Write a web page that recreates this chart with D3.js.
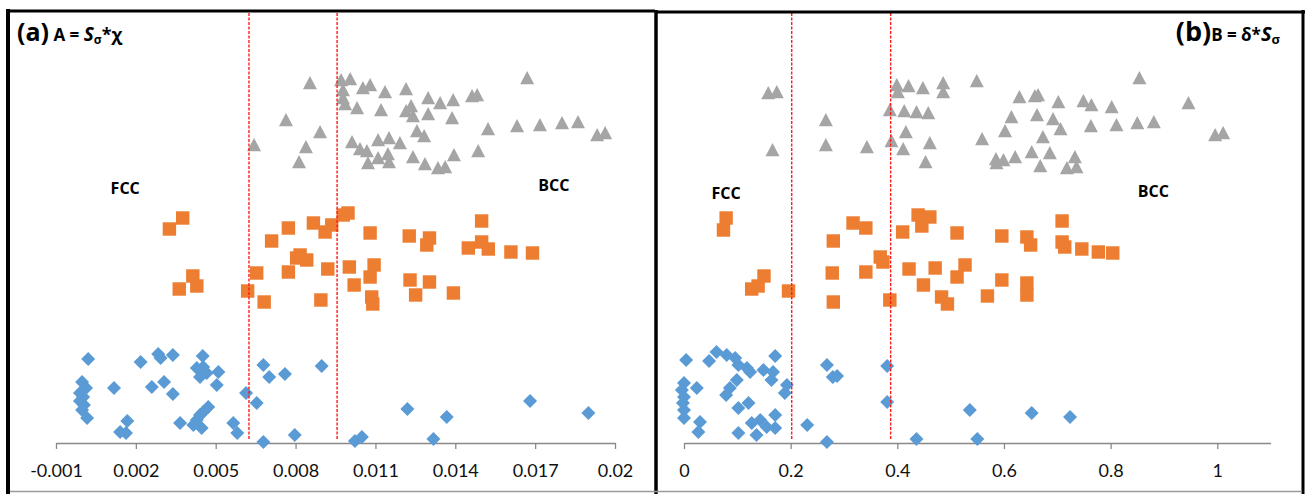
<!DOCTYPE html>
<html><head><meta charset="utf-8">
<script src="https://cdn.jsdelivr.net/npm/d3@7"></script>
<style>
body{margin:0;background:#fff}
svg{display:block}
text{font-family:Lato,"Open Sans","Liberation Sans",sans-serif}
</style>
</head><body>
<svg id="chart" width="1311" height="494"></svg>
<script>
// ---------- DATA ----------
// Panel (a): x = A = S_sigma * chi ; y = arbitrary vertical spread (no y axis)
const triA = [[0.00644,2.98],[0.00764,3.23],[0.00813,2.81],[0.00839,2.96],[0.00854,3.60],[0.00892,3.11],
[0.00971,3.63],[0.00978,3.53],[0.00978,3.45],[0.00986,3.39],[0.01005,3.64],[0.01031,3.35],[0.01053,3.55],[0.01080,3.58],
[0.01121,3.33],[0.01136,3.51],[0.01215,3.54],[0.01215,3.32],[0.01234,3.37],[0.01241,3.27],[0.01298,3.45],[0.01298,3.29],
[0.01343,3.40],[0.01392,3.43],[0.01388,3.25],[0.01463,3.47],[0.01482,3.48],[0.01670,3.65],[0.01523,3.14],[0.01632,3.17],
[0.01718,3.18],[0.01801,3.20],[0.01861,3.21],[0.01933,3.08],[0.01963,3.10],
[0.01012,3.01],[0.01042,2.94],[0.01068,2.92],[0.01072,2.80],[0.01110,3.03],[0.01110,2.85],[0.01151,3.05],[0.01147,2.89],
[0.01151,2.81],[0.01192,3.00],[0.01241,2.86],[0.01286,2.79],[0.01335,2.75],[0.01362,2.76],[0.01395,2.88],[0.01486,2.92],
[0.01256,3.12],[0.01283,3.07]];
const sqA = [[0.00376,2.25],[0.00326,2.14],[0.00414,1.67],[0.00363,1.54],[0.00429,1.57],[0.00620,1.52],[0.00654,1.70],
[0.00682,1.41],[0.00710,2.02],[0.00773,2.15],[0.00773,1.71],[0.00804,1.85],[0.00817,1.88],[0.00842,1.83],[0.00867,2.20],
[0.00911,2.11],[0.00936,2.18],[0.00979,2.28],[0.00997,2.30],[0.00921,1.74],[0.00895,1.43],[0.01002,1.76],[0.01080,2.10],
[0.01095,1.78],[0.01080,1.66],[0.01020,1.58],[0.01086,1.46],[0.01090,1.39],[0.01227,2.07],[0.01303,2.05],[0.01293,1.98],
[0.01230,1.63],[0.01251,1.48],[0.01303,1.61],[0.01393,1.50],[0.01499,2.22],[0.01499,2.01],[0.01449,1.95],[0.01524,1.94],
[0.01609,1.91],[0.01690,1.90]];
const diaA = [[0.00021,0.84],[-0.00002,0.61],[0.00013,0.55],[-0.0001,0.50],[0.00002,0.46],[-0.0001,0.42],[0.00005,0.38],
[-0.00002,0.33],[0.00017,0.25],[0.00118,0.55],[0.00218,0.81],[0.00284,0.89],[0.00293,0.85],[0.00339,0.88],[0.00260,0.56],
[0.00306,0.61],[0.00339,0.49],[0.00168,0.22],[0.00141,0.11],[0.00163,0.10],[0.00366,0.20],[0.00416,0.18],[0.00447,0.15],
[0.00441,0.28],[0.00472,0.36],[0.00453,0.31],[0.00429,0.23],[0.00451,0.87],[0.00429,0.75],[0.00453,0.76],[0.00441,0.66],
[0.00466,0.70],[0.00510,0.71],[0.00504,0.58],[0.00566,0.20],[0.00581,0.10],[0.00614,0.50],[0.00654,0.40],[0.00679,0.78],
[0.00701,0.66],[0.00760,0.69],[0.00679,0.01],[0.00797,0.08],[0.00898,0.77],[0.01220,0.34],[0.01368,0.26],[0.01681,0.42],
[0.01900,0.30],[0.01023,0.02],[0.01049,0.06],[0.01318,0.04]];
const linesA = [0.00625, 0.00956];
const ticksA = [-0.001,0.002,0.005,0.008,0.011,0.014,0.017,0.02];
const tickLabelsA = ["-0.001","0.002","0.005","0.008","0.011","0.014","0.017","0.02"];

// Panel (b): x = B = delta * S_sigma
const triB = [[0.158,3.50],[0.174,3.51],[0.166,2.93],[0.266,3.23],[0.266,2.98],[0.343,2.96],[0.399,3.58],[0.401,3.51],
[0.421,3.57],[0.448,3.55],[0.486,3.60],[0.486,3.51],[0.549,3.62],[0.386,3.33],[0.413,3.32],[0.436,3.31],[0.458,3.30],
[0.416,3.11],[0.389,3.02],[0.411,2.94],[0.461,3.00],[0.453,2.81],[0.559,3.04],[0.629,3.46],[0.658,3.47],[0.664,3.48],
[0.702,3.41],[0.749,3.42],[0.764,3.38],[0.802,3.36],[0.854,3.65],[0.946,3.40],[0.614,3.26],[0.662,3.28],[0.692,3.24],
[0.706,3.14],[0.602,3.12],[0.673,3.06],[0.763,3.17],[0.811,3.18],[0.850,3.20],[0.881,3.21],[0.996,3.08],[1.011,3.10],
[0.585,2.84],[0.599,2.83],[0.586,2.80],[0.621,2.86],[0.652,2.91],[0.668,2.77],[0.686,2.90],[0.718,2.75],[0.733,2.86],[0.736,2.76]];
const sqB = [[0.079,2.25],[0.074,2.13],[0.150,1.67],[0.139,1.57],[0.127,1.54],[0.196,1.52],[0.280,2.02],[0.278,1.70],
[0.280,1.41],[0.317,2.20],[0.341,2.15],[0.341,1.71],[0.368,1.86],[0.373,1.81],[0.386,1.43],[0.410,2.11],[0.439,2.28],
[0.461,2.26],[0.446,2.17],[0.422,1.74],[0.449,1.58],[0.471,1.75],[0.483,1.46],[0.494,1.39],[0.512,2.10],[0.527,1.78],
[0.512,1.66],[0.569,1.47],[0.596,2.07],[0.596,1.63],[0.643,2.06],[0.650,1.98],[0.643,1.60],[0.643,1.48],[0.709,2.22],
[0.709,2.01],[0.714,1.96],[0.746,1.94],[0.777,1.91],[0.804,1.90]];
const diaB = [[0.004,0.83],[0.000,0.60],[-0.004,0.53],[0.000,0.46],[-0.002,0.40],[0.000,0.33],[0.000,0.25],[0.024,0.55],
[0.030,0.21],[0.027,0.11],[0.047,0.82],[0.061,0.91],[0.080,0.88],[0.096,0.85],[0.102,0.78],[0.118,0.75],[0.124,0.71],
[0.149,0.73],[0.167,0.71],[0.171,0.87],[0.164,0.63],[0.099,0.63],[0.086,0.55],[0.079,0.48],[0.102,0.35],[0.121,0.40],
[0.102,0.10],[0.127,0.20],[0.143,0.23],[0.155,0.16],[0.171,0.28],[0.171,0.15],[0.136,0.08],[0.193,0.58],[0.189,0.50],
[0.231,0.18],[0.268,0.78],[0.279,0.66],[0.287,0.67],[0.268,0.01],[0.381,0.77],[0.381,0.41],[0.436,0.04],[0.536,0.33],
[0.550,0.04],[0.652,0.30],[0.724,0.26]];
const linesB = [0.202, 0.3875];
const ticksB = [0,0.2,0.4,0.6,0.8,1];
const tickLabelsB = ["0","0.2","0.4","0.6","0.8","1"];

// ---------- DRAW ----------
const svg = d3.select("#chart");
const COLORS = {tri:"#a5a5a5", sq:"#ed7d31", dia:"#5b9bd5"};
const BOLDFONT = "'Open Sans', Lato, sans-serif";

const y = d3.scaleLinear().domain([0, 4.3]).range([443, 13]);

const triType = {draw(c, s){ const r = Math.sqrt(s)/2; c.moveTo(0,-r); c.lineTo(r, r*0.9); c.lineTo(-r, r*0.9); c.closePath(); }};
const diaType = {draw(c, s){ const r = Math.sqrt(s)/2; c.moveTo(0,-r); c.lineTo(r,0); c.lineTo(0,r); c.lineTo(-r,0); c.closePath(); }};
const symTri = d3.symbol().type(triType).size(196);
const symSq = d3.symbol().type(d3.symbolSquare).size(180);
const symDia = d3.symbol().type(diaType).size(196);

function panel(x, tri, sq, dia, lines, ticks, labels) {
  const g = svg.append("g");
  const ax = d3.axisBottom(x).tickValues(ticks).tickFormat((d,i)=>labels[i]).tickSizeInner(6).tickSizeOuter(0);
  const ag = g.append("g").attr("transform", `translate(0,${y(0)})`).call(ax);
  ag.select(".domain").attr("stroke","#898989").attr("stroke-width",1.3);
  ag.selectAll(".tick line").attr("stroke","#898989").attr("stroke-width",1.3);
  ag.selectAll(".tick text").attr("y",21).attr("fill","#111").style("font-size","18px").style("font-family","Lato, 'Open Sans', sans-serif");
  const pts = (data, sym, col) => g.append("g").selectAll("path").data(data).join("path")
    .attr("d", sym).attr("transform", d=>`translate(${x(d[0])},${y(d[1])})`).attr("fill", col);
  pts(dia, symDia, COLORS.dia);
  pts(sq, symSq, COLORS.sq);
  pts(tri, symTri, COLORS.tri);
  g.append("g").selectAll("line").data(lines).join("line")
    .attr("x1", d=>x(d)).attr("x2", d=>x(d)).attr("y1", y(4.3)).attr("y2", y(0.03))
    .attr("stroke","#ff1a1a").attr("stroke-width",1.4).attr("stroke-dasharray","3,1.5");
  return g;
}

const xa = d3.scaleLinear().domain([-0.001, 0.02]).range([56, 615]);
const xb = d3.scaleLinear().domain([0, 1.1]).range([684, 1270.6]);
panel(xa, triA, sqA, diaA, linesA, ticksA, tickLabelsA);
panel(xb, triB, sqB, diaB, linesB, ticksB, tickLabelsB);

// frames
const fr = svg.append("g");
fr.append("line").attr("x1",8).attr("x2",8).attr("y1",9).attr("y2",494).attr("stroke","#000").attr("stroke-width",4);
fr.append("line").attr("x1",6).attr("x2",655).attr("y1",11).attr("y2",11).attr("stroke","#000").attr("stroke-width",3);
fr.append("line").attr("x1",657).attr("x2",1305).attr("y1",12).attr("y2",12).attr("stroke","#000").attr("stroke-width",3);
fr.append("line").attr("x1",656).attr("x2",656).attr("y1",10).attr("y2",494).attr("stroke","#000").attr("stroke-width",3.5);
fr.append("line").attr("x1",1303).attr("x2",1303).attr("y1",10).attr("y2",494).attr("stroke","#000").attr("stroke-width",3);
fr.append("line").attr("x1",10).attr("x2",1302).attr("y1",491.5).attr("y2",491.5).attr("stroke","#9a9a9a").attr("stroke-width",1.5);

// titles
const tA = svg.append("text").attr("x",17).attr("y",41).attr("font-weight","bold").attr("fill","#000").style("font-family",BOLDFONT);
tA.append("tspan").text("(a)").style("font-size","25px");
tA.append("tspan").text(" A = ").style("font-size","17px");
tA.append("tspan").text("S").style("font-size","19px").style("font-style","italic");
tA.append("tspan").text("σ").style("font-size","12px").attr("dy",3);
tA.append("tspan").text("*χ").style("font-size","18px").attr("dy",-3);

const tB = svg.append("text").attr("x",1280).attr("y",41).attr("text-anchor","end").attr("font-weight","bold").attr("fill","#000").style("font-family",BOLDFONT);
tB.append("tspan").text("(b)").style("font-size","27px");
tB.append("tspan").text("B = δ*").style("font-size","17px");
tB.append("tspan").text("S").style("font-size","20px").style("font-style","italic");
tB.append("tspan").text("σ").style("font-size","13px").attr("dy",3);

// phase labels
const lab = [[xa, 0.0016, 2.55, "FCC"],[xa, 0.0177, 2.58, "BCC"],[xb, 0.079, 2.50, "FCC"],[xb, 0.880, 2.52, "BCC"]];
svg.append("g").selectAll("text").data(lab).join("text")
  .attr("x", d=>d[0](d[1])).attr("y", d=>y(d[2])).attr("text-anchor","middle").attr("dy","0.35em")
  .attr("font-weight","bold").style("font-size","16px").style("font-family",BOLDFONT).attr("fill","#000").text(d=>d[3]);
</script>
</body></html>
